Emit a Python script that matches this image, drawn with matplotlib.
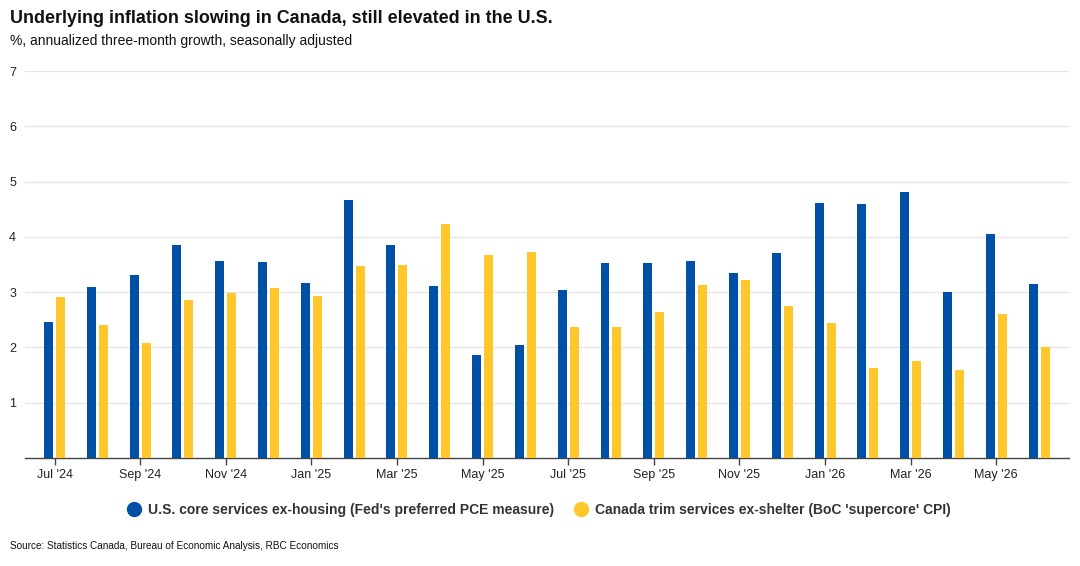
import matplotlib
matplotlib.use("Agg")
import matplotlib.pyplot as plt
import numpy as np
from matplotlib.lines import Line2D

plt.rcParams["font.family"] = ["Liberation Sans", "DejaVu Sans"]

# Maanden juli 2024 t/m juni 2026
maanden = ["Jul '24", "Aug '24", "Sep '24", "Oct '24", "Nov '24", "Dec '24",
           "Jan '25", "Feb '25", "Mar '25", "Apr '25", "May '25", "Jun '25",
           "Jul '25", "Aug '25", "Sep '25", "Oct '25", "Nov '25", "Dec '25",
           "Jan '26", "Feb '26", "Mar '26", "Apr '26", "May '26", "Jun '26"]

us_core = [2.46, 3.10, 3.31, 3.86, 3.57, 3.55, 3.17, 4.66, 3.86, 3.11, 1.86, 2.04,
           3.04, 3.52, 3.53, 3.57, 3.35, 3.70, 4.62, 4.60, 4.82, 3.01, 4.06, 3.15]
canada_trim = [2.91, 2.41, 2.08, 2.86, 2.99, 3.08, 2.93, 3.48, 3.50, 4.24, 3.68, 3.73,
               2.37, 2.37, 2.64, 3.13, 3.22, 2.75, 2.44, 1.62, 1.75, 1.59, 2.61, 2.01]

namen = ["U.S. core services ex-housing (Fed's preferred PCE measure)",
         "Canada trim services ex-shelter (BoC 'supercore' CPI)"]

BLAUW = "#0051A5"
GEEL = "#FFC72C"

fig = plt.figure(figsize=(10.8, 5.66), dpi=100)
ax = fig.add_axes([25 / 1080, 1 - 458 / 566, 1044 / 1080, (458 - 71) / 566])

x = np.arange(len(maanden))
breedte = 0.21
ax.bar(x - 0.14, us_core, width=breedte, color=BLAUW, zorder=3)
ax.bar(x + 0.14, canada_trim, width=breedte, color=GEEL, zorder=3)

ax.set_xlim(-0.69, 23.7)
ax.set_ylim(0, 7)

# Rasterlijnen en as-opmaak
ax.set_yticks(range(1, 8))
ax.yaxis.grid(True, color="#e6e6e6", linewidth=1, zorder=0)
ax.tick_params(axis="y", length=0, pad=9, labelsize=9, labelcolor="#222222")
for lbl in ax.get_yticklabels():
    lbl.set_horizontalalignment("center")
ax.set_xticks(x[::2])
ax.set_xticklabels(maanden[::2])
ax.tick_params(axis="x", length=5, width=1, color="#444444", labelsize=9,
               labelcolor="#222222", pad=3)
for kant in ["top", "right", "left"]:
    ax.spines[kant].set_visible(False)
ax.spines["bottom"].set_color("#444444")
ax.spines["bottom"].set_linewidth(1)

# Titel, ondertitel en bron
fig.text(10 / 1080, 1 - 18.5 / 566, "Underlying inflation slowing in Canada, still elevated in the U.S.",
         fontsize=12.9, fontweight="bold", va="center", ha="left", color="#111111")
fig.text(10 / 1080, 1 - 41 / 566, "%, annualized three-month growth, seasonally adjusted",
         fontsize=10, va="center", ha="left", color="#111111")
fig.text(10 / 1080, 1 - 546 / 566, "Source: Statistics Canada, Bureau of Economic Analysis, RBC Economics",
         fontsize=7.2, va="center", ha="left", color="#111111")

handles = [Line2D([], [], marker="o", linestyle="", markersize=10, color=BLAUW),
           Line2D([], [], marker="o", linestyle="", markersize=10, color=GEEL)]
leg = fig.legend(handles, namen, loc="center", bbox_to_anchor=(538 / 1080, 1 - 510 / 566),
                 ncol=2, frameon=False, handlelength=1.2, handletextpad=0.4,
                 columnspacing=1.35, prop={"weight": "bold", "size": 10})
for tekst in leg.get_texts():
    tekst.set_color("#333333")

fig.savefig("out.png", dpi=100)
